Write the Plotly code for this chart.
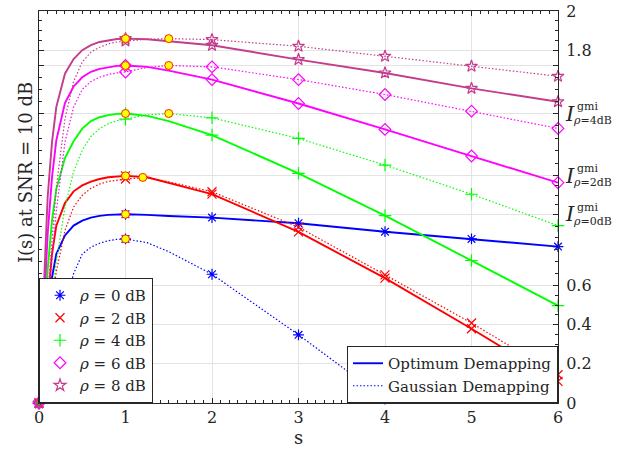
import plotly.graph_objects as go

# ---------------- data ----------------
s_grid = [0, 0.05, 0.1, 0.15, 0.2, 0.3, 0.4, 0.5, 0.6, 0.7, 0.8, 0.9, 1.0,
          1.25, 1.5, 2, 3, 4, 5, 6]

rho_names = ["0", "2", "4", "6", "8"]

# Optimum demapping I(s)
opt_0dB = [0, 0.22, 0.44, 0.64, 0.76, 0.855, 0.905, 0.93, 0.946, 0.955, 0.96, 0.962, 0.963,
           0.960, 0.954, 0.946, 0.917, 0.874, 0.837, 0.798]
opt_2dB = [0, 0.26, 0.54, 0.76, 0.905, 1.02, 1.08, 1.11, 1.13, 1.143, 1.152, 1.157, 1.159,
           1.152, 1.123, 1.066, 0.873, 0.637, 0.379, 0.11]
opt_4dB = [0, 0.34, 0.68, 0.93, 1.09, 1.25, 1.335, 1.40, 1.438, 1.458, 1.469, 1.475, 1.477,
           1.465, 1.438, 1.367, 1.172, 0.956, 0.727, 0.497]
opt_6dB = [0, 0.43, 0.86, 1.15, 1.34, 1.53, 1.615, 1.662, 1.69, 1.705, 1.714, 1.72, 1.722,
           1.715, 1.696, 1.650, 1.528, 1.396, 1.260, 1.124]
opt_8dB = [0, 0.55, 1.05, 1.33, 1.51, 1.68, 1.755, 1.80, 1.826, 1.842, 1.851, 1.857, 1.859,
           1.856, 1.846, 1.825, 1.752, 1.684, 1.605, 1.537]

# Gaussian demapping I(s)
gau_0dB = [0, 0.08, 0.17, 0.25, 0.34, 0.50, 0.66, 0.76, 0.795, 0.815, 0.828, 0.835, 0.837,
           0.818, 0.772, 0.657, 0.348, 0.02, -0.4, -0.8]
gau_2dB = [0, 0.18, 0.36, 0.52, 0.67, 0.88, 1.0, 1.06, 1.095, 1.117, 1.13, 1.138, 1.143,
           1.150, 1.128, 1.078, 0.897, 0.654, 0.408, 0.144]
gau_4dB = [0, 0.18, 0.36, 0.54, 0.72, 1.0, 1.18, 1.29, 1.36, 1.40, 1.425, 1.44, 1.448,
           1.470, 1.477, 1.455, 1.350, 1.214, 1.065, 0.905]
gau_6dB = [0, 0.25, 0.50, 0.75, 0.98, 1.33, 1.51, 1.60, 1.64, 1.662, 1.676, 1.684, 1.689,
           1.712, 1.722, 1.715, 1.650, 1.574, 1.489, 1.401]
gau_8dB = [0, 0.28, 0.55, 0.85, 1.10, 1.45, 1.64, 1.74, 1.79, 1.815, 1.832, 1.842, 1.847,
           1.856, 1.859, 1.854, 1.820, 1.769, 1.718, 1.667]

# maxima (yellow circles)
peak_s_opt = [1.0, 1.0, 1.0, 1.0, 1.0]
peak_opt = [0.963, 1.159, 1.477, 1.722, 1.859]
peak_s_gau = [1.0, 1.2, 1.5, 1.5, 1.5]
peak_gau = [0.837, 1.151, 1.477, 1.722, 1.859]

x_ticks = [0, 1, 2, 3, 4, 5, 6]
y_ticks = [0, 0.2, 0.4, 0.6] + peak_opt[:4] + [1.8, 2]
y_ticktext = ["0", "0.2", "0.4", "0.6", "", "", "", "", "1.8", "2"]
gmi_rho = ["0dB", "2dB", "4dB"]          # labels placed at peak_opt[0..2]

# ---------------- styles ----------------
colors = ["#0000FF", "#FF0000", "#00FF00", "#FF00FF", "#C43C8C"]
symbols = ["asterisk-open", "x-thin-open", "cross-thin-open", "diamond-open", "star-open"]
FONT = "DejaVu Serif"
TXT = "#262626"

opt_all = [opt_0dB, opt_2dB, opt_4dB, opt_6dB, opt_8dB]
gau_all = [gau_0dB, gau_2dB, gau_4dB, gau_6dB, gau_8dB]
mk_idx = [i for i, s in enumerate(s_grid) if float(s).is_integer()]

fig = go.Figure()

# lines
for k in range(5):
    fig.add_trace(go.Scatter(
        x=s_grid, y=opt_all[k], mode="lines",
        line=dict(color=colors[k], width=1.9),
        name="Optimum Demapping", legend="legend2",
        showlegend=(k == 0), hoverinfo="skip"))
    fig.add_trace(go.Scatter(
        x=s_grid, y=gau_all[k], mode="lines",
        line=dict(color=colors[k], width=1.2, dash="1.5px,2px"),
        name="Gaussian Demapping", legend="legend2",
        showlegend=(k == 0), hoverinfo="skip"))

# markers at integer s
for k in range(5):
    for data, show in ((opt_all[k], True), (gau_all[k], False)):
        xs = [s_grid[i] for i in mk_idx if 0 <= data[i] <= 2]
        ys = [data[i] for i in mk_idx if 0 <= data[i] <= 2]
        fig.add_trace(go.Scatter(
            x=xs, y=ys, mode="markers", cliponaxis=False,
            marker=dict(symbol=symbols[k], size=9, color=colors[k],
                        line=dict(color=colors[k], width=1.2)),
            name="<i>ρ</i> = %s dB" % rho_names[k], legend="legend",
            showlegend=show))

# maxima
fig.add_trace(go.Scatter(
    x=peak_s_opt + peak_s_gau, y=peak_opt + peak_gau, mode="markers",
    cliponaxis=False, showlegend=False,
    marker=dict(symbol="circle", size=8, color="#FFFF00",
                line=dict(color="#FF2000", width=1))))

# minor y ticks: subdivisions of the major intervals
minor_div = [4, 4, 4, 6, 4, 5, 4, 1, 4]
y_minor = []
for j in range(len(y_ticks) - 1):
    a, b = y_ticks[j], y_ticks[j + 1]
    n = minor_div[j]
    for m in range(1, n):
        y_minor.append(a + (b - a) * m / n)

fig.update_layout(
    width=639, height=449,
    margin=dict(l=39, r=81, t=11, b=46, autoexpand=False),
    paper_bgcolor="white", plot_bgcolor="white",
    font=dict(family=FONT, color=TXT),
    xaxis=dict(range=[0, 6], tickvals=x_ticks, ticks="inside", ticklen=5,
               tickcolor=TXT, mirror="allticks", showline=True, linecolor=TXT,
               linewidth=1, showgrid=True, gridcolor="#E3E3E3", zeroline=False,
               automargin=False, ticklabeloverflow="allow",
               tickfont=dict(family=FONT, size=16, color=TXT),
               minor=dict(dtick=0.1, ticks="inside", ticklen=3, tickcolor=TXT,
                          showgrid=False)),
    yaxis=dict(range=[0, 2], side="right", tickvals=y_ticks, ticktext=y_ticktext,
               ticks="inside", ticklen=5, tickcolor=TXT, mirror="allticks",
               showline=True, linecolor=TXT, linewidth=1, showgrid=True,
               gridcolor="#E3E3E3", zeroline=False, automargin=False,
               ticklabeloverflow="allow",
               tickfont=dict(family=FONT, size=16, color=TXT),
               ticklabelstandoff=4,
               minor=dict(tickmode="array", tickvals=y_minor, ticks="inside",
                          ticklen=3, tickcolor=TXT, showgrid=False)),
    legend=dict(x=0, y=0, xanchor="left", yanchor="bottom", bgcolor="white",
                bordercolor=TXT, borderwidth=1,
                font=dict(family=FONT, size=15, color=TXT),
                tracegroupgap=0),
    legend2=dict(x=1, y=0, xanchor="right", yanchor="bottom", bgcolor="white",
                 bordercolor=TXT, borderwidth=1,
                 font=dict(family=FONT, size=15, color=TXT),
                 tracegroupgap=0),
)

annots = [dict(text="I(s) at SNR = 10 dB", xref="paper", yref="paper",
               x=-0.027, y=0.589, xanchor="center", yanchor="middle",
               textangle=-90, showarrow=False,
               font=dict(family=FONT, size=18, color=TXT)),
          dict(text="s", xref="paper", yref="paper", x=0.5, y=0, yshift=-34,
               xanchor="center", yanchor="middle", showarrow=False,
               font=dict(family=FONT, size=18, color=TXT))]
for j, lab in enumerate(gmi_rho):
    yv = peak_opt[j]
    annots.append(dict(text="<i>I</i>", xref="paper", yref="y", x=1, y=yv,
                       xshift=5, xanchor="left", yanchor="middle", showarrow=False,
                       font=dict(family=FONT, size=21, color=TXT)))
    annots.append(dict(text="gmi", xref="paper", yref="y", x=1, y=yv,
                       xshift=17, yshift=7, xanchor="left", yanchor="middle",
                       showarrow=False, font=dict(family=FONT, size=11, color=TXT)))
    annots.append(dict(text="<i>ρ</i>=" + lab, xref="paper", yref="y", x=1, y=yv,
                       xshift=13, yshift=-7, xanchor="left", yanchor="middle",
                       showarrow=False, font=dict(family=FONT, size=11, color=TXT)))
fig.update_layout(annotations=annots)

fig.write_html("out.html",
               config={"displayModeBar": False, "staticPlot": True},
               post_script="document.body.style.margin='0';"
                           "document.body.style.padding='0';")
